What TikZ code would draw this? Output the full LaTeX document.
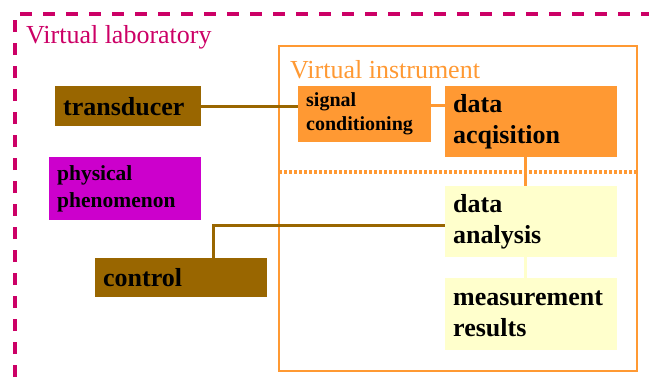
\documentclass[tikz,border=0pt]{standalone}
\usepackage{fontspec}
\setmainfont{Liberation Serif}
\newfontfamily\lbold{LiberationSerif-Bold}
\definecolor{labmag}{HTML}{CC0066}
\definecolor{instor}{HTML}{FF9933}
\definecolor{brownbox}{HTML}{996600}
\definecolor{physmag}{HTML}{CC00CC}
\definecolor{paleyel}{HTML}{FFFFCC}
\tikzset{
  boxbase/.style={anchor=north west, inner xsep=8pt, inner ysep=0pt, align=left, font=\lbold\fontsize{26}{31}\selectfont},
  bigbox/.style={boxbase, text width=#1-16pt, minimum width=#1},
  frametitle/.style={anchor=base west, inner sep=0pt, font=\fontsize{26}{30}\selectfont},
  conn/.style={line width=3pt},
}
\begin{document}
\begin{tikzpicture}[x=1pt,y=-1pt]
\useasboundingbox (0,0) rectangle (649,386);
% virtual laboratory dashed frame
\draw[labmag, line width=3.3pt, dash pattern=on 12pt off 11pt] (15,400) -- (15,14) -- (660,14);
\node[frametitle, text=labmag] (vlab) at (26,43) {Virtual laboratory};
% virtual instrument frame
\draw[instor, line width=2pt] (279,46) rectangle (637,371);
\node[frametitle, text=instor] (vins) at (290,78) {Virtual instrument};
\draw[instor, line width=3.5pt, dash pattern=on 3pt off 2pt] (279,172) -- (637,172);
% boxes
\node[bigbox=146pt, minimum height=40pt, fill=brownbox] (trans) at (55,86) {transducer};
\node[bigbox=133pt, minimum height=56pt, fill=instor, font=\lbold\fontsize{20}{24}\selectfont] (sig) at (298,86) {signal\\conditioning};
\node[bigbox=172pt, minimum height=71pt, fill=instor] (acq) at (445,86) {data\\acqisition};
\node[bigbox=152pt, minimum height=63pt, fill=physmag, font=\lbold\fontsize{21.5}{27}\selectfont] (phys) at (49,157) {physical\\phenomenon};
\node[bigbox=172pt, minimum height=71pt, fill=paleyel] (ana) at (445,186) {data\\analysis};
\node[bigbox=172pt, minimum height=72pt, fill=paleyel] (res) at (445,278) {measurement\\results};
\node[bigbox=172pt, minimum height=39pt, fill=brownbox] (ctrl) at (95,258) {control};
% connectors
\draw[conn, brownbox] (trans.east) -- (trans.east -| sig.west);
\draw[conn, instor] (sig.east |- 0,105) -- (acq.west |- 0,105);
\draw[conn, instor] ([xshift=-6pt]acq.south) -- ([xshift=-6pt]ana.north);
\draw[conn, paleyel] ([xshift=-6pt]ana.south) -- ([xshift=-6pt]res.north);
\draw[conn, brownbox] ([xshift=32pt]ctrl.north) |- ([yshift=-3.5pt]ana.west);
\end{tikzpicture}
\end{document}
